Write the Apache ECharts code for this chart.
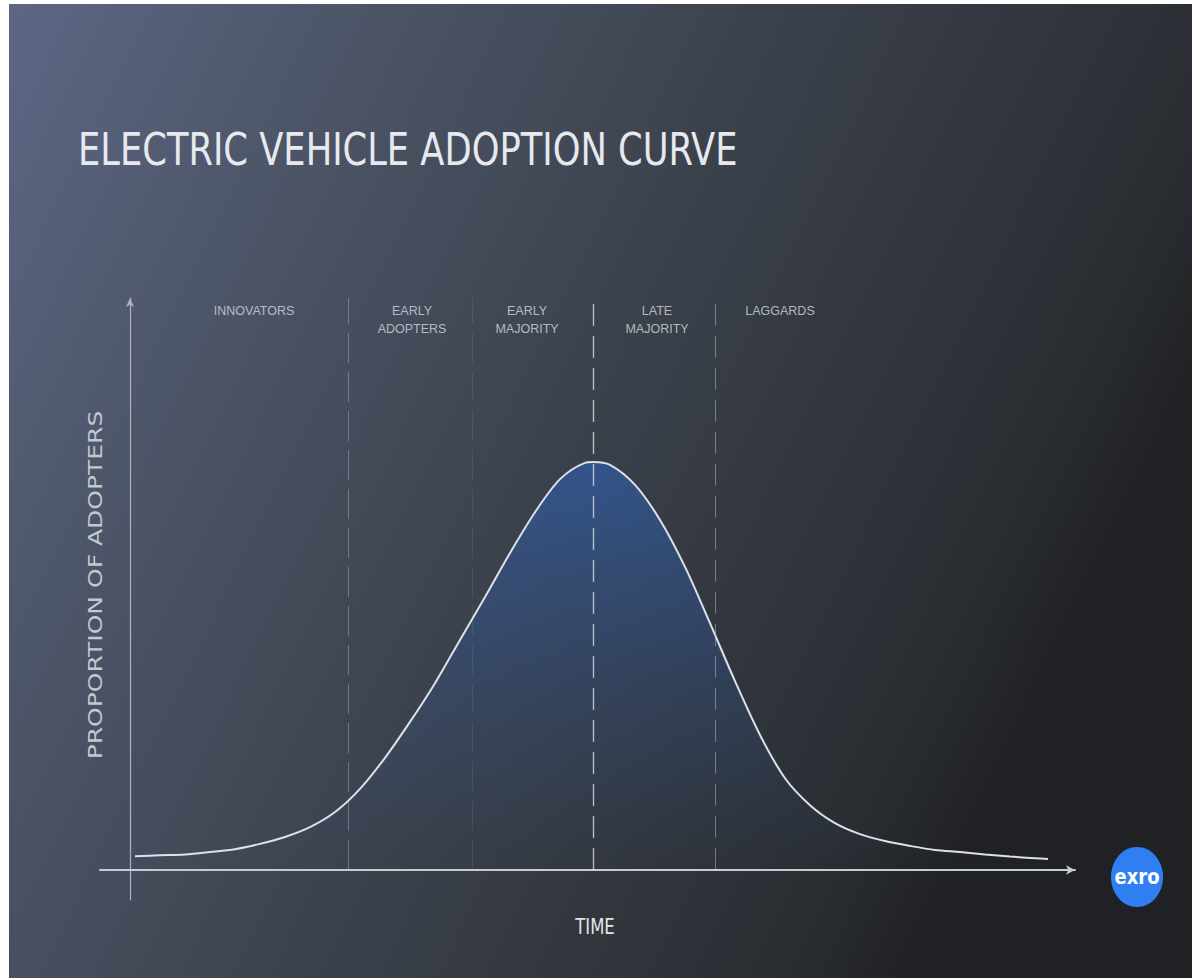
<!DOCTYPE html>
<html>
<head>
<meta charset="utf-8">
<script src="https://cdn.jsdelivr.net/npm/echarts@6/dist/echarts.min.js"></script>
<style>
  html, body { margin: 0; padding: 0; background: #ffffff; width: 1192px; height: 978px; overflow: hidden; }
  #c { position: absolute; left: 9px; top: 4px; width: 1183px; height: 974px; }
</style>
</head>
<body>
<div id="c"></div>
<script>
// ---- data ----
const titleText = 'ELECTRIC VEHICLE ADOPTION CURVE';
const xAxisName = 'TIME';
const yAxisName = 'PROPORTION OF ADOPTERS';
const categories = ['INNOVATORS', 'EARLY\nADOPTERS', 'EARLY\nMAJORITY', 'LATE\nMAJORITY', 'LAGGARDS'];
const categoryLabelX = [12.4, 28.2, 39.7, 52.7, 65.0];
const categoryLabelY = [139.2, 139.2, 139.2, 139.2, 139.2];
const boundaryX = [21.8, 34.2, 46.3, 58.5];
const curveX = [0.5, 3.0, 5.5, 8.0, 10.5, 13.0, 15.5, 18.0, 20.5, 23.0, 25.5, 28.0, 30.5, 33.0, 35.5, 38.0,
                40.5, 43.0, 45.5, 46.3, 48.0, 50.5, 53.0, 55.5, 58.0, 60.5, 63.0, 65.5, 68.0, 70.5, 73.0,
                75.5, 78.0, 80.5, 83.0, 85.5, 88.0, 90.5, 91.8];
const curveY = [3.4, 3.6, 3.8, 4.4, 5.1, 6.4, 8.1, 10.5, 14.2, 19.9, 27.5, 36.3, 45.8, 56.4, 66.9, 77.7,
                87.7, 95.8, 99.8, 100, 99.3, 94.4, 85.8, 74.3, 60.5, 46.3, 33.1, 22.5, 15.9, 11.5, 8.8,
                7.1, 5.9, 4.9, 4.4, 3.8, 3.3, 2.9, 2.7];
const logoText = 'exro';

// ---- styles ----
const boundaryStyles = [
  { color: 'rgba(205,210,220,0.35)', width: 1, type: [30, 9] },
  { color: 'rgba(205,210,220,0.10)', width: 1, type: [30, 9] },
  { color: 'rgba(225,230,238,0.75)', width: 1.4, type: [22, 10] },
  { color: 'rgba(205,210,220,0.45)', width: 1, type: [22, 10] }
];

const chart = echarts.init(document.getElementById('c'), null, { renderer: 'svg' });

const W = 1183, H = 974;

const option = {
  animation: false,
  backgroundColor: 'transparent',
  graphic: [
    {
      type: 'rect', z: -100, silent: true,
      shape: { x: 0, y: 0, width: W, height: H },
      style: {
        fill: new echarts.graphic.LinearGradient(0, 0, 1, 0.4, [
          { offset: 0, color: '#5d6785' },
          { offset: 0.25, color: '#4d5568' },
          { offset: 0.57, color: '#3b414b' },
          { offset: 0.9, color: '#2a2e33' },
          { offset: 1, color: '#202124' }
        ])
      }
    },
    {
      type: 'text', silent: true, x: 69, y: 146, scaleY: 1.25,
      style: {
        text: titleText, fill: '#e6e9ee',
        font: 'normal 35.3px "DejaVu Sans"',
        textAlign: 'left', textVerticalAlign: 'middle'
      }
    },
    {
      type: 'text', silent: true, x: 86, y: 581, rotation: Math.PI / 2, scaleX: 1.25,
      style: {
        text: yAxisName, fill: '#c3c8d1',
        font: 'normal 20px "DejaVu Sans"',
        textAlign: 'center', textVerticalAlign: 'middle'
      }
    },
    {
      type: 'text', silent: true, x: 586, y: 923, scaleY: 1.25,
      style: {
        text: xAxisName, fill: '#e2e5ea',
        font: 'normal 16.5px "DejaVu Sans"',
        textAlign: 'center', textVerticalAlign: 'middle'
      }
    },
    {
      type: 'ellipse', silent: true,
      shape: { cx: 1128, cy: 873, rx: 26, ry: 30 },
      style: { fill: '#2f7ff2' }
    },
    {
      type: 'text', silent: true, x: 1128, y: 873, scaleY: 1.2,
      style: {
        text: logoText, fill: '#ffffff',
        font: 'bold 18px "DejaVu Sans"',
        textAlign: 'center', textVerticalAlign: 'middle'
      }
    }
  ],
  grid: { left: 91, right: 117, top: 294, bottom: 78 },
  xAxis: {
    type: 'value', min: -3, max: 94.5,
    axisLine: {
      show: true, onZero: true,
      symbol: ['none', 'arrow'], symbolSize: [7, 9],
      lineStyle: { color: '#c6cad2', width: 2 }
    },
    axisTick: { show: false }, axisLabel: { show: false }, splitLine: { show: false }
  },
  yAxis: {
    type: 'value', min: -7.35, max: 140.2,
    axisLine: {
      show: true, onZero: true,
      symbol: ['none', 'arrow'], symbolSize: [6, 9],
      lineStyle: { color: '#aeb4be', width: 1.2 }
    },
    axisTick: { show: false }, axisLabel: { show: false }, splitLine: { show: false }
  },
  series: [
    {
      type: 'line',
      name: 'Adopters',
      data: curveX.map((x, i) => [x, curveY[i]]),
      smooth: 0.3,
      showSymbol: false,
      symbol: 'none',
      lineStyle: { color: '#dde1e8', width: 2 },
      areaStyle: {
        color: new echarts.graphic.LinearGradient(0, 0, 0, 1, [
          { offset: 0, color: 'rgba(47,94,170,0.95)' },
          { offset: 0.55, color: 'rgba(47,86,152,0.4)' },
          { offset: 1, color: 'rgba(47,80,140,0)' }
        ])
      },
      markLine: {
        silent: true,
        symbol: ['none', 'none'],
        label: { show: false },
        data: boundaryX.map((x, i) => [
          { coord: [x, 0], lineStyle: boundaryStyles[i] },
          { coord: [x, 140.2] }
        ])
      },
      z: 3
    },
    {
      type: 'scatter',
      name: 'Segments',
      symbolSize: 1,
      itemStyle: { color: 'transparent' },
      silent: true,
      data: categories.map((c, i) => ({ name: c, value: [categoryLabelX[i], categoryLabelY[i]] })),
      label: {
        show: true,
        position: 'inside',
        formatter: p => p.name,
        align: 'center',
        verticalAlign: 'top',
        color: '#d6d9df',
        fontFamily: 'Liberation Sans',
        fontSize: 12.5,
        lineHeight: 18
      },
      z: 5
    }
  ]
};
chart.setOption(option);
</script>
</body>
</html>
